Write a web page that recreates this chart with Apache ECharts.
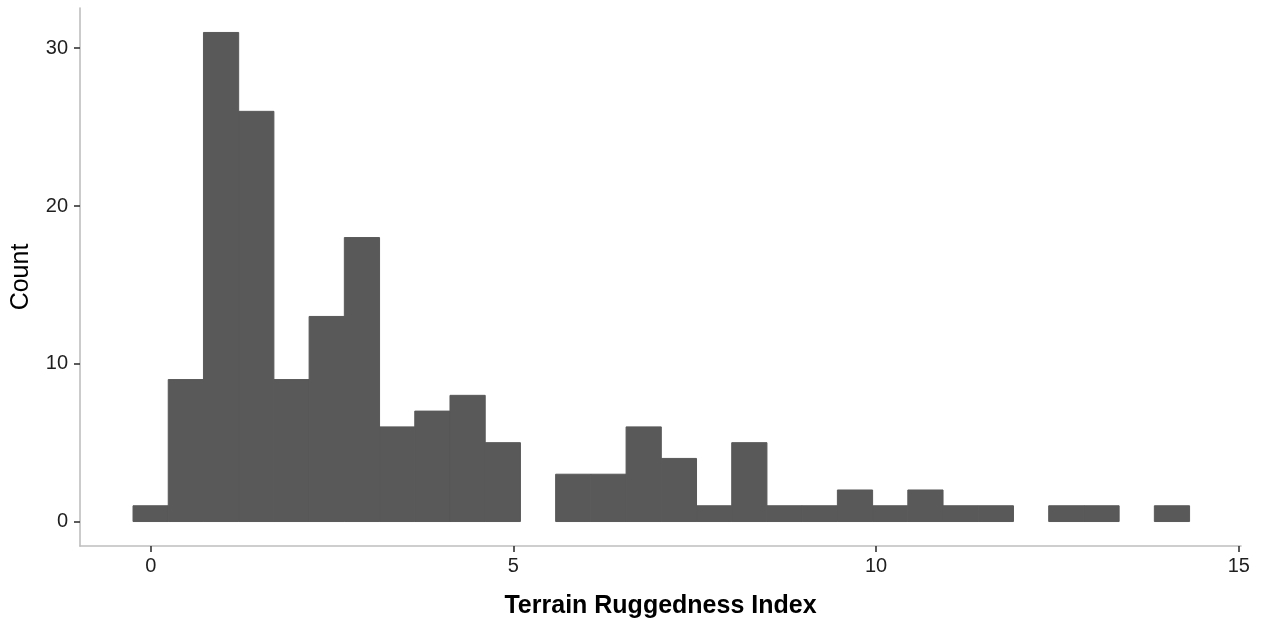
<!DOCTYPE html>
<html>
<head>
<meta charset="utf-8">
<script src="https://cdn.jsdelivr.net/npm/echarts@6/dist/echarts.min.js"></script>
<style>
  html, body { margin: 0; padding: 0; background: #fff; }
  #chart { width: 1263px; height: 625px; }
</style>
</head>
<body>
<div id="chart"></div>
<script>
// Histogram of terrain ruggedness: 30 equal-width bins
const binStart = -0.244;   // left edge of the first bin
const binWidth = 0.4855;   // width of each bin
const counts = [1, 9, 31, 26, 9, 13, 18, 6, 7, 8, 5, 0, 3, 3, 6, 4, 1, 5, 1, 1, 2, 1, 2, 1, 1, 0, 1, 1, 0, 1];
const xTicks = [0, 5, 10, 15];
const yTicks = [0, 10, 20, 30];

const bins = counts.map((c, i) => [binStart + i * binWidth, binStart + (i + 1) * binWidth, c]);

const chart = echarts.init(document.getElementById('chart'));
const textColor = '#1f1f1f';
const barColor = '#595959';
chart.setOption({
  animation: false,
  grid: { left: 80, right: 22, top: 8, bottom: 79, containLabel: false, outerBoundsMode: 'none' },
  xAxis: {
    type: 'value',
    min: -0.975,
    max: 15.03,
    name: 'Terrain Ruggedness Index',
    nameLocation: 'middle',
    nameGap: 48,
    nameTextStyle: { fontFamily: 'Liberation Sans', fontSize: 25, fontWeight: 'bold', color: '#000' },
    splitLine: { show: false },
    axisLine: { show: true, onZero: false, lineStyle: { color: '#bebebe', width: 1.6 } },
    axisTick: { show: true, customValues: xTicks, length: 6, lineStyle: { color: '#333', width: 1.6 } },
    axisLabel: { customValues: xTicks, fontFamily: 'Liberation Sans', fontSize: 20, color: textColor, margin: 10 }
  },
  yAxis: {
    type: 'value',
    min: -1.55,
    max: 32.55,
    name: 'Count',
    nameLocation: 'middle',
    nameRotate: 90,
    nameGap: 46,
    nameTextStyle: { fontFamily: 'Liberation Sans', fontSize: 25, color: '#000' },
    splitLine: { show: false },
    axisLine: { show: true, onZero: false, lineStyle: { color: '#bebebe', width: 1.6 } },
    axisTick: { show: true, customValues: yTicks, length: 6, lineStyle: { color: '#333', width: 1.6 } },
    axisLabel: { customValues: yTicks, fontFamily: 'Liberation Sans', fontSize: 20, color: textColor, margin: 12 }
  },
  series: [{
    type: 'custom',
    data: bins,
    encode: { x: [0, 1], y: 2 },
    renderItem: function (params, api) {
      const h = api.value(2);
      if (!h) return null;
      const p0 = api.coord([api.value(0), 0]);
      const p1 = api.coord([api.value(1), h]);
      return {
        type: 'rect',
        shape: { x: p0[0], y: p1[1], width: p1[0] - p0[0], height: p0[1] - p1[1] },
        style: { fill: barColor, stroke: barColor, lineWidth: 1 }
      };
    }
  }]
});
</script>
</body>
</html>
